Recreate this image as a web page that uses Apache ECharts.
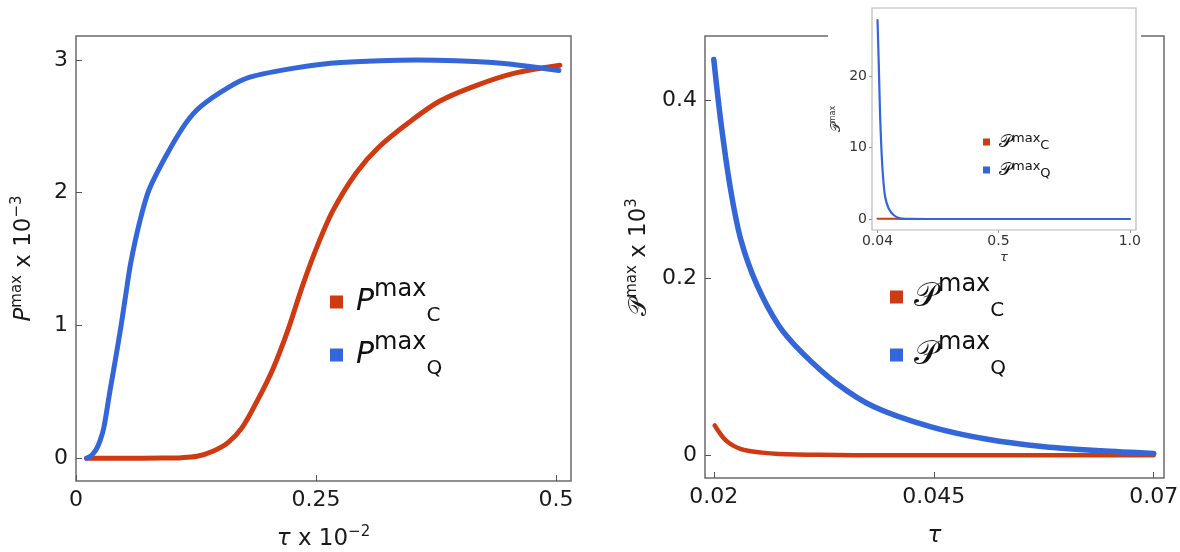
<!DOCTYPE html>
<html>
<head>
<meta charset="utf-8">
<script src="https://cdn.jsdelivr.net/npm/echarts@6/dist/echarts.min.js"></script>
<style>
html,body{margin:0;padding:0;background:#fff;}
#chart{width:1180px;height:552px;}
</style>
</head>
<body>
<div id="chart"></div>
<script>
// ---------- data ----------
// Left panel: x = tau x 10^-2, y = P^max x 10^-3
const leftRedX  = [0.011,0.05,0.09,0.11,0.126,0.142,0.158,0.173,0.189,0.205,0.221,0.236,0.252,0.268,0.292,0.315,0.347,0.379,0.418,0.457,0.504];
const leftRedY  = [0,0,0.001,0.004,0.014,0.05,0.115,0.23,0.435,0.67,0.97,1.30,1.61,1.87,2.15,2.34,2.53,2.69,2.81,2.90,2.96];
const leftBlueX = [0.011,0.016,0.021,0.025,0.029,0.035,0.041,0.047,0.052,0.057,0.066,0.076,0.094,0.114,0.130,0.158,0.181,0.229,0.276,0.355,0.434,0.503];
const leftBlueY = [0,0.02,0.065,0.13,0.23,0.49,0.74,1.0,1.24,1.47,1.77,2.02,2.28,2.52,2.65,2.79,2.87,2.94,2.98,3.0,2.98,2.92];
const leftXTicks = [0,0.25,0.5];
const leftYTicks = [0,1,2,3];

// Right panel: x = tau, y = script-P^max x 10^3
const rightRedX  = [0.0201,0.0214,0.0231,0.0255,0.0274,0.032,0.04,0.05,0.06,0.07];
const rightRedY  = [0.0336,0.0165,0.007,0.003,0.0015,0.0005,0,0,0,0];
const rightBlueX = [0.02,0.0208,0.0219,0.0231,0.0249,0.0274,0.030,0.0339,0.0382,0.0447,0.0511,0.0576,0.064,0.07];
const rightBlueY = [0.446,0.376,0.30,0.242,0.192,0.146,0.116,0.0815,0.0547,0.032,0.018,0.0096,0.005,0.002];
const rightXTicks = [0.02,0.045,0.07];
const rightYTicks = [0,0.2,0.4];

// Inset: x = tau, y = script-P^max
const insetRedX  = [0.04,0.1,0.2,0.5,1.0];
const insetRedY  = [0.05,0.02,0,0,0];
const insetBlueX = [0.04,0.045,0.05,0.055,0.061,0.069,0.082,0.101,0.126,0.165,0.25,0.5,0.75,1.0];
const insetBlueY = [27.8,21.3,14.3,9.65,5.9,3.1,1.5,0.56,0.1,0.02,0,0,0,0];
const insetXTicks = [0.04,0.5,1.0];
const insetYTicks = [0,10,20];

// ---------- styling ----------
const FONT = '"DejaVu Sans", "Liberation Sans", Arial, sans-serif';
const SCRIPT_FONT = '"DejaVu Serif", "Noto Sans", serif';
const RED = '#d03a12';
const BLUE = '#3366d9';
const SP = '\u{1D4AB}'; // script P

function pairs(xs, ys){ return xs.map((x,i)=>[x, ys[i]]); }
function fmt(v){ return v === 0 ? '0' : String(v); }
function fmtInset(v){ if (v === 0) return '0'; if (v === 1) return '1.0'; return String(v); }

function mainX(grid, min, max, ticks, name, nameRich){
  return {
    type:'value', gridIndex:grid, min:min, max:max,
    axisLine:{show:false, onZero:false}, splitLine:{show:false},
    axisTick:{show:true, inside:true, length:6, customValues:ticks, lineStyle:{color:'#555', width:1}},
    axisLabel:{customValues:ticks, formatter:fmt, fontSize:22, color:'#1a1a1a', fontFamily:FONT, margin:8},
    name:name, nameLocation:'middle', nameGap:44, nameTextStyle:{fontFamily:FONT, color:'#1a1a1a', rich:nameRich}
  };
}
function mainY(grid, min, max, ticks, name, nameRich, gap){
  return {
    type:'value', gridIndex:grid, min:min, max:max,
    axisLine:{show:false, onZero:false}, splitLine:{show:false},
    axisTick:{show:true, inside:true, length:6, customValues:ticks, lineStyle:{color:'#555', width:1}},
    axisLabel:{customValues:ticks, formatter:fmt, fontSize:22, color:'#1a1a1a', fontFamily:FONT, margin:8},
    name:name, nameLocation:'middle', nameRotate:90, nameGap:gap, nameTextStyle:{fontFamily:FONT, color:'#1a1a1a', rich:nameRich}
  };
}

const axisNameRich = {
  i:{fontSize:23, fontStyle:'italic', lineHeight:28, fontFamily:FONT, color:'#1a1a1a'},
  is:{fontSize:25, lineHeight:28, fontFamily:SCRIPT_FONT, color:'#1a1a1a'},
  n:{fontSize:23, lineHeight:28, fontFamily:FONT, color:'#1a1a1a'},
  s:{fontSize:15, lineHeight:13, verticalAlign:'top', fontFamily:FONT, color:'#1a1a1a'}
};

function legendRich(pSize, supSize, subSize, lh, supLh, subLh, pad, scriptP){
  return {
    p:{fontSize:pSize, fontStyle: scriptP ? 'normal' : 'italic', lineHeight:lh, padding:[0,0,0,pad],
       fontFamily: scriptP ? SCRIPT_FONT : FONT, color:'#111'},
    sup:{fontSize:supSize, lineHeight:supLh, verticalAlign:'top', fontFamily:FONT, color:'#111'},
    sub:{fontSize:subSize, lineHeight:subLh, verticalAlign:'bottom', fontFamily:FONT, color:'#111'}
  };
}
function legendFmt(letter){
  return function(n){ return '{p|' + letter + '}{sup|max}{sub|' + (n.slice(-1)) + '}'; };
}

function line(name, xi, yi, data, color, width, z){
  return {
    name:name, type:'line', xAxisIndex:xi, yAxisIndex:yi, data:data,
    showSymbol:false, symbol:'none', smooth:0.3,
    lineStyle:{color:color, width:width, cap:'round', join:'round'}, itemStyle:{color:color},
    z:z, silent:true, animation:false
  };
}

const option = {
  animation:false,
  backgroundColor:'#ffffff',
  grid:[
    {left:76, top:36, width:495, height:445, show:true, borderColor:'#6b6b6b', borderWidth:1.5, backgroundColor:'transparent', containLabel:false, outerBoundsMode:'none'},
    {left:705, top:36, width:459, height:442, show:true, borderColor:'#6b6b6b', borderWidth:1.5, backgroundColor:'transparent', containLabel:false, outerBoundsMode:'none'},
    {left:872, top:8, width:264, height:222, show:true, borderColor:'#b8b8b8', borderWidth:1.2, backgroundColor:'#ffffff', z:10, containLabel:false, outerBoundsMode:'none'}
  ],
  graphic:[
    {type:'rect', shape:{x:828, y:0, width:313, height:270}, style:{fill:'#ffffff'}, z:5, silent:true}
  ],
  xAxis:[
    mainX(0, 0, 0.5156, leftXTicks, '{i|τ}{n| x 10}{s|−2}', axisNameRich),
    mainX(1, 0.019, 0.07117, rightXTicks, '{i|τ}', axisNameRich),
    {
      type:'value', gridIndex:2, min:0.019, max:1.0236, z:10,
      axisLine:{show:false, onZero:false}, splitLine:{show:false},
      axisTick:{show:true, inside:false, length:3, customValues:insetXTicks, lineStyle:{color:'#999'}},
      axisLabel:{customValues:insetXTicks, formatter:fmtInset, fontSize:14, color:'#333', fontFamily:FONT, margin:4},
      name:'{i|τ}', nameLocation:'middle', nameGap:21,
      nameTextStyle:{rich:{i:{fontSize:13, fontStyle:'italic', fontFamily:FONT, color:'#333'}}}
    }
  ],
  yAxis:[
    mainY(0, -0.172, 3.18, leftYTicks, '{i|P}{s|max}{n| x 10}{s|−3}', axisNameRich, 38),
    mainY(1, -0.0256, 0.4726, rightYTicks, '{is|' + SP + '}{s|max}{n| x 10}{s|3}', axisNameRich, 52),
    {
      type:'value', gridIndex:2, min:-1.54, max:29.5, z:10,
      axisLine:{show:false, onZero:false}, splitLine:{show:false},
      axisTick:{show:true, inside:false, length:3, customValues:insetYTicks, lineStyle:{color:'#999'}},
      axisLabel:{customValues:insetYTicks, formatter:fmtInset, fontSize:14, color:'#333', fontFamily:FONT, margin:5},
      name:'{i|' + SP + '}{s|max}', nameLocation:'middle', nameRotate:90, nameGap:27,
      nameTextStyle:{rich:{
        i:{fontSize:13, lineHeight:16, fontFamily:SCRIPT_FONT, color:'#333'},
        s:{fontSize:8, lineHeight:8, verticalAlign:'top', fontFamily:FONT, color:'#333'}
      }}
    }
  ],
  legend:[
    {data:['PC','PQ'], orient:'vertical', left:325, top:273, itemGap:5, icon:'rect', itemWidth:13, itemHeight:13,
     formatter:legendFmt('P'), selectedMode:false, textStyle:{rich:legendRich(30,24,20,48,21,48,8,false)}},
    {data:['RC','RQ'], orient:'vertical', left:885, top:268, itemGap:10, icon:'rect', itemWidth:13, itemHeight:13,
     formatter:legendFmt(SP), selectedMode:false, textStyle:{rich:legendRich(33,24,20,48,21,48,6,true)}},
    {data:['IC','IQ'], orient:'vertical', left:978, top:127, itemGap:8, icon:'rect', itemWidth:7, itemHeight:7, z:12,
     formatter:legendFmt(SP), selectedMode:false, textStyle:{rich:legendRich(18,13,13,20,10,20,4,true)}}
  ],
  series:[
    line('PC', 0, 0, pairs(leftRedX, leftRedY), RED, 5, 2),
    line('PQ', 0, 0, pairs(leftBlueX, leftBlueY), BLUE, 5, 3),
    line('RC', 1, 1, pairs(rightRedX, rightRedY), RED, 4.5, 2),
    line('RQ', 1, 1, pairs(rightBlueX, rightBlueY), BLUE, 5.5, 3),
    line('IC', 2, 2, pairs(insetRedX, insetRedY), RED, 2, 11),
    line('IQ', 2, 2, pairs(insetBlueX, insetBlueY), BLUE, 2.2, 12)
  ]
};

const chart = echarts.init(document.getElementById('chart'), null, {renderer:'canvas'});
chart.setOption(option);
</script>
</body>
</html>
